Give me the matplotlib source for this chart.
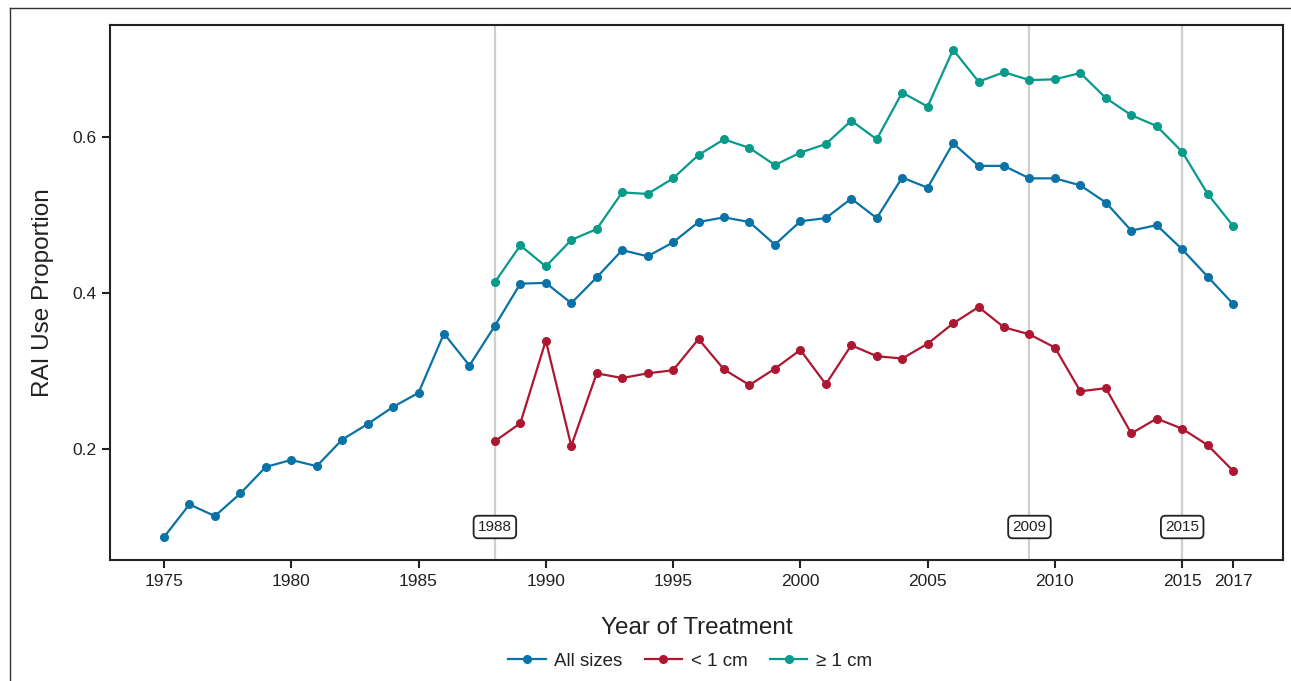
import matplotlib
matplotlib.use("Agg")
import matplotlib.pyplot as plt
from matplotlib.lines import Line2D
from matplotlib import font_manager

years_all = list(range(1975, 2018))
all_sizes = [0.087, 0.129, 0.114, 0.143, 0.177, 0.186, 0.178, 0.212, 0.232, 0.254,
             0.272, 0.348, 0.307, 0.358, 0.412, 0.413, 0.387, 0.420, 0.455, 0.447,
             0.465, 0.491, 0.497, 0.491, 0.462, 0.492, 0.496, 0.521, 0.496, 0.548,
             0.535, 0.592, 0.563, 0.563, 0.547, 0.547, 0.538, 0.516, 0.480, 0.487,
             0.456, 0.421, 0.386]

years_sub = list(range(1988, 2018))
small = [0.210, 0.233, 0.339, 0.204, 0.297, 0.291, 0.297, 0.301, 0.341, 0.302,
         0.282, 0.303, 0.327, 0.283, 0.333, 0.319, 0.316, 0.335, 0.361, 0.382,
         0.356, 0.347, 0.330, 0.274, 0.278, 0.220, 0.239, 0.226, 0.205, 0.172]
large = [0.414, 0.461, 0.434, 0.468, 0.482, 0.529, 0.527, 0.547, 0.577, 0.597,
         0.586, 0.564, 0.580, 0.591, 0.621, 0.597, 0.657, 0.639, 0.712, 0.671,
         0.683, 0.673, 0.674, 0.682, 0.650, 0.628, 0.614, 0.581, 0.527, 0.486]

series_labels = ["All sizes", "< 1 cm", "\u2265 1 cm"]
series_colors = ["#0a72a6", "#ae1731", "#089a8b"]

ref_years = [1988, 2009, 2015]
x_ticks = [1975, 1980, 1985, 1990, 1995, 2000, 2005, 2010, 2015, 2017]
y_ticks = [0.2, 0.4, 0.6]

names = {f.name for f in font_manager.fontManager.ttflist}
title_font = "Liberation Sans Narrow" if "Liberation Sans Narrow" in names else "Liberation Sans"
plt.rcParams['font.family'] = ['Liberation Sans', 'DejaVu Sans']

fig = plt.figure(figsize=(12.91, 6.81), dpi=100)
ax = fig.add_axes([110/1291, 1-560/681, (1283-110)/1291, (560-25)/681])

for yr in ref_years:
    ax.axvline(yr, color="#cfcfcf", lw=1.6, zorder=1)

ax.plot(years_all, all_sizes, '-o', color=series_colors[0], lw=1.6, ms=5.5, label=series_labels[0], zorder=3)
ax.plot(years_sub, small, '-o', color=series_colors[1], lw=1.6, ms=5.5, label=series_labels[1], zorder=3)
ax.plot(years_sub, large, '-o', color=series_colors[2], lw=1.6, ms=5.5, label=series_labels[2], zorder=3)

for yr in ref_years:
    ax.text(yr, 0.1, str(yr), ha='center', va='center', fontsize=11, color="#222222",
            bbox=dict(boxstyle="round,pad=0.28,rounding_size=0.3", fc="white", ec="#222222", lw=1.3),
            zorder=4)

ax.set_xlim(1972.88, 2018.96)
ax.set_ylim(0.0577, 0.7436)
ax.set_xticks(x_ticks)
ax.set_xticklabels([str(t) for t in x_ticks])
ax.set_yticks(y_ticks)
ax.set_yticklabels([f"{t:.1f}" for t in y_ticks])
ax.tick_params(axis='both', direction='out', length=6, width=1.5, color="#222222",
               labelsize=12.5, labelcolor="#222222", pad=4)
for s in ax.spines.values():
    s.set_linewidth(1.5)
    s.set_color("#222222")

ax.set_xlabel("Year of Treatment", fontsize=17.5, family=title_font, color="#222222", labelpad=20)
ax.set_ylabel("RAI Use Proportion", fontsize=17.5, family=title_font, color="#222222", labelpad=13)

handles, labels = ax.get_legend_handles_labels()
fig.legend(handles, labels, loc='center', bbox_to_anchor=(690/1291, 1-661/681), ncol=3,
           frameon=False, fontsize=13.5, handlelength=2.0, columnspacing=1.2,
           handletextpad=0.45, labelcolor="#222222")

fig.add_artist(Line2D([10/1291, 10/1291], [0, 1-8/681], transform=fig.transFigure, color="#333333", lw=1.0))
fig.add_artist(Line2D([10/1291, 1], [1-8/681, 1-8/681], transform=fig.transFigure, color="#333333", lw=1.0))

fig.savefig("out.png", dpi=100)
